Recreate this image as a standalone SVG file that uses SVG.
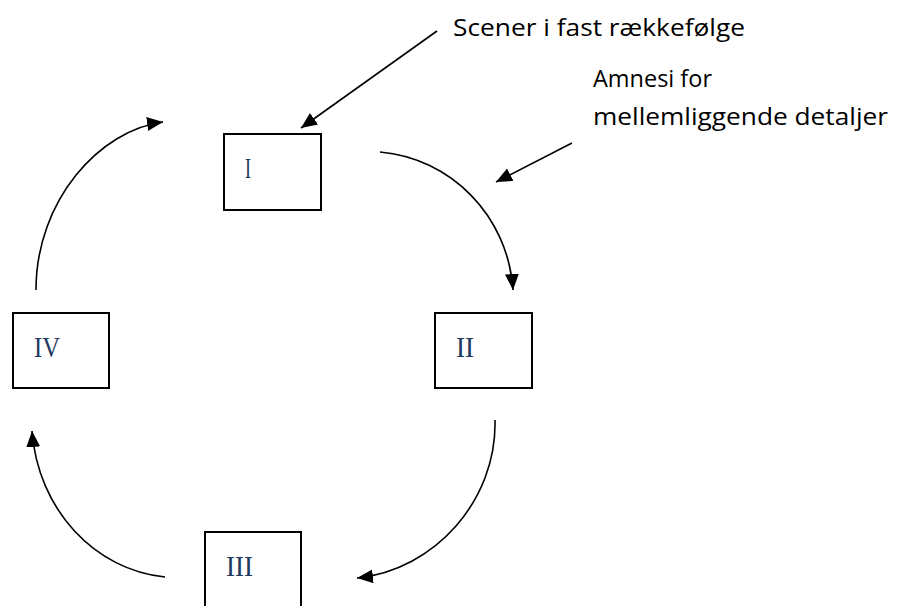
<svg xmlns="http://www.w3.org/2000/svg" width="897" height="606" viewBox="0 0 897 606">
<style>
.box{fill:#fff;stroke:#000;stroke-width:2}
.num{font-family:"Liberation Serif",serif;font-size:29px;fill:#1F3A60}
.lbl{font-family:"Open Sans","Noto Sans",sans-serif;font-size:24.5px;fill:#000}
.con{fill:none;stroke:#000;stroke-width:1.6}
</style>
<defs>
<marker id="ah" markerUnits="userSpaceOnUse" markerWidth="18" markerHeight="14" refX="16" refY="7" orient="auto">
<path d="M0,0 L16,7 L0,14 Z" fill="#000"/>
</marker>
</defs>
<rect width="897" height="606" fill="#fff"/>
<g id="node-I"><rect class="box" x="224" y="134" width="97" height="76"/><text class="num" x="245" y="178" textLength="6" lengthAdjust="spacingAndGlyphs">I</text></g>
<g id="node-II"><rect class="box" x="435" y="313" width="97" height="75"/><text class="num" x="456" y="357" textLength="18" lengthAdjust="spacingAndGlyphs">II</text></g>
<g id="node-III"><rect class="box" x="205" y="532" width="96" height="80"/><text class="num" x="226" y="576" textLength="27" lengthAdjust="spacingAndGlyphs">III</text></g>
<g id="node-IV"><rect class="box" x="13" y="313" width="96" height="75"/><text class="num" x="34" y="357" textLength="26" lengthAdjust="spacingAndGlyphs">IV</text></g>
<g id="labels">
<text class="lbl" x="453" y="36" textLength="292" lengthAdjust="spacingAndGlyphs">Scener i fast rækkefølge</text>
<text class="lbl" x="593" y="87" textLength="119" lengthAdjust="spacingAndGlyphs">Amnesi for</text>
<text class="lbl" x="593" y="125" textLength="295" lengthAdjust="spacingAndGlyphs">mellemliggende detaljer</text>
</g>
<g id="connectors">
<line class="con" x1="437" y1="31" x2="301" y2="128" marker-end="url(#ah)"/>
<line class="con" x1="572" y1="143" x2="496" y2="182" marker-end="url(#ah)"/>
<path class="con" d="M380,152 C450,158 508,215 513,290" marker-end="url(#ah)"/>
<path class="con" d="M495,420 C497,500 435,570 357,578" marker-end="url(#ah)"/>
<path class="con" d="M165,577 C95,570 38,510 32,431" marker-end="url(#ah)"/>
<path class="con" d="M36,290 C36,200 100,130 163,122" marker-end="url(#ah)"/>
</g>
</svg>
